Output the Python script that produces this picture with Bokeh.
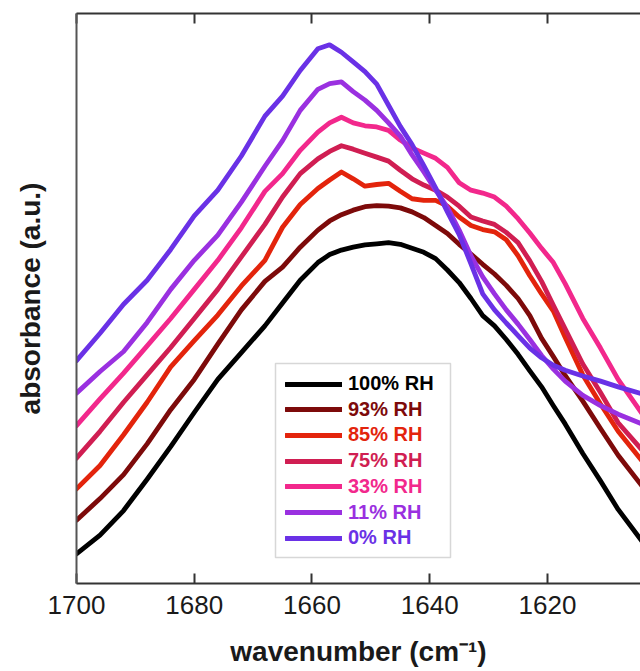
from bokeh.plotting import figure
from bokeh.models import (Range1d, LinearAxis, FixedTicker, Legend, LegendItem, BoxAnnotation,
                          CustomLabelingPolicy)
from bokeh.embed import file_html
from bokeh.resources import INLINE

# ---------------- data ----------------
wavenumber = [1700, 1696, 1692, 1688, 1684, 1680, 1676, 1672, 1668, 1665, 1662, 1659,
              1657, 1655, 1653, 1651, 1649, 1647, 1645, 1643, 1641, 1639, 1637, 1635,
              1633, 1631, 1629, 1627, 1625, 1623, 1621, 1619, 1617, 1614, 1611, 1608, 1604]

rh_100 = [0.052, 0.085, 0.128, 0.183, 0.240, 0.300, 0.358, 0.405, 0.452, 0.492, 0.532, 0.563,
          0.577, 0.585, 0.590, 0.594, 0.596, 0.598, 0.595, 0.588, 0.581, 0.570, 0.550, 0.528,
          0.500, 0.470, 0.452, 0.428, 0.402, 0.373, 0.345, 0.312, 0.280, 0.228, 0.180, 0.130, 0.075]
rh_93 = [0.111, 0.149, 0.191, 0.245, 0.305, 0.358, 0.420, 0.480, 0.530, 0.555, 0.590, 0.620,
         0.636, 0.647, 0.655, 0.661, 0.663, 0.662, 0.659, 0.652, 0.642, 0.628, 0.614, 0.595,
         0.578, 0.560, 0.543, 0.523, 0.500, 0.470, 0.430, 0.398, 0.365, 0.320, 0.272, 0.225, 0.172]
rh_85 = [0.166, 0.207, 0.261, 0.318, 0.380, 0.426, 0.471, 0.522, 0.567, 0.625, 0.665, 0.693,
         0.708, 0.722, 0.710, 0.697, 0.700, 0.702, 0.688, 0.675, 0.672, 0.672, 0.662, 0.643,
         0.628, 0.621, 0.617, 0.603, 0.575, 0.540, 0.508, 0.478, 0.432, 0.366, 0.315, 0.267, 0.216]
rh_75 = [0.220, 0.267, 0.318, 0.366, 0.414, 0.465, 0.516, 0.573, 0.630, 0.678, 0.719, 0.745,
         0.758, 0.768, 0.762, 0.755, 0.748, 0.741, 0.725, 0.710, 0.699, 0.690, 0.678, 0.662,
         0.643, 0.636, 0.630, 0.616, 0.598, 0.566, 0.530, 0.488, 0.447, 0.385, 0.335, 0.282, 0.235]
rh_33 = [0.277, 0.324, 0.369, 0.417, 0.465, 0.516, 0.567, 0.624, 0.688, 0.719, 0.760, 0.792,
         0.808, 0.818, 0.808, 0.803, 0.801, 0.795, 0.778, 0.764, 0.755, 0.746, 0.730, 0.703,
         0.690, 0.685, 0.678, 0.662, 0.640, 0.615, 0.588, 0.563, 0.526, 0.465, 0.413, 0.358, 0.299]
rh_11 = [0.334, 0.372, 0.407, 0.458, 0.516, 0.567, 0.611, 0.669, 0.732, 0.777, 0.830, 0.867,
         0.877, 0.880, 0.863, 0.848, 0.830, 0.808, 0.785, 0.752, 0.722, 0.690, 0.660, 0.620,
         0.575, 0.538, 0.508, 0.480, 0.455, 0.428, 0.400, 0.376, 0.355, 0.330, 0.312, 0.297, 0.280]
rh_0 = [0.391, 0.439, 0.490, 0.532, 0.586, 0.645, 0.690, 0.750, 0.820, 0.855, 0.900, 0.938,
        0.945, 0.932, 0.915, 0.898, 0.876, 0.839, 0.802, 0.770, 0.733, 0.694, 0.652, 0.612,
        0.561, 0.508, 0.480, 0.457, 0.435, 0.413, 0.396, 0.383, 0.374, 0.364, 0.355, 0.345, 0.333]

series_labels = ["100% RH", "93% RH", "85% RH", "75% RH", "33% RH", "11% RH", "0% RH"]
series_values = [rh_100, rh_93, rh_85, rh_75, rh_33, rh_11, rh_0]
series_colors = ["#000000", "#7d0a0a", "#e3240c", "#d01e52", "#f2288c", "#9a30e0", "#6a31e6"]
x_ticks = [1700, 1680, 1660, 1640, 1620]

# ---------------- layout / style ----------------
FONT = "Liberation Sans"
AXIS_COLOR = "#333333"
X_START, X_END = 1700, 1604.2
Y_START, Y_END = 0.0, 1.0
FRAME_W, FRAME_H = 564, 570
FRAME_LEFT_PX, FRAME_BOTTOM_PX = 76, 583   # page pixel coords of frame corner

p = figure(frame_width=FRAME_W, frame_height=FRAME_H,
           x_range=Range1d(X_START, X_END), y_range=Range1d(Y_START, Y_END),
           output_backend="svg", toolbar_location=None,
           min_border_left=FRAME_LEFT_PX, min_border_right=0, min_border_top=13,
           min_border_bottom=88)
p.outline_line_color = None
p.grid.visible = False
p.background_fill_color = "white"

xa = p.xaxis[0]
xa.ticker = FixedTicker(ticks=x_ticks)
xa.major_tick_in = 10
xa.major_tick_out = 0
xa.minor_tick_line_color = None
xa.major_tick_line_width = 2
xa.major_tick_line_color = AXIS_COLOR
xa.axis_line_width = 2
xa.axis_line_color = AXIS_COLOR
xa.major_label_text_font = FONT
xa.major_label_text_font_size = "26px"
xa.major_label_text_color = "#1a1a1a"
xa.major_label_standoff = 12
xa.axis_label = "wavenumber (cm\u207b\u00b9)"
xa.axis_label_text_font = FONT
xa.axis_label_text_font_size = "28px"
xa.axis_label_text_font_style = "bold"
xa.axis_label_text_color = "#1a1a1a"
xa.axis_label_text_line_height = 1.0
xa.axis_label_standoff = 19

ya = p.yaxis[0]
ya.ticker = FixedTicker(ticks=[])
ya.major_tick_in = 0
ya.major_tick_out = 0
ya.minor_tick_line_color = None
ya.major_label_text_font_size = "0px"
ya.major_label_standoff = 0
ya.axis_line_width = 2
ya.axis_line_color = "#555555"
ya.axis_label = "absorbance (a.u.)"
ya.axis_label_text_font = FONT
ya.axis_label_text_font_size = "28px"
ya.axis_label_text_font_style = "bold"
ya.axis_label_text_color = "#1a1a1a"
ya.axis_label_standoff = 31

# top frame edge with inward ticks, no labels drawn
no_labels = CustomLabelingPolicy(code="""
for (const i of indices) { indices.unset(i) }
return indices
""")
top = LinearAxis(ticker=FixedTicker(ticks=x_ticks), major_tick_in=10, major_tick_out=0,
                 major_tick_line_width=2, major_tick_line_color=AXIS_COLOR,
                 minor_tick_line_color=None, axis_line_width=2, axis_line_color=AXIS_COLOR,
                 major_label_policy=no_labels, major_label_text_font_size="10px",
                 major_label_standoff=0)
p.add_layout(top, "above")

renderers = []
for vals, col in zip(series_values, series_colors):
    r = p.line(wavenumber, vals, line_color=col, line_width=4.8,
               line_join="round", line_cap="round")
    renderers.append(r)

# legend box (positions converted from page pixels to data space)
def px_to_x(px):
    return X_START + (px - FRAME_LEFT_PX) / FRAME_W * (X_END - X_START)

def py_to_y(py):
    return Y_START + (FRAME_BOTTOM_PX - py) / FRAME_H * (Y_END - Y_START)

box = BoxAnnotation(left=px_to_x(275), right=px_to_x(450), top=py_to_y(363), bottom=py_to_y(557),
                    fill_color="white", fill_alpha=1.0, line_color="#7a7a7a", line_width=1.5)
p.add_layout(box)

ROW0_CENTER, ROW_STEP = 385, 25.7
for i, (lab, r, col) in enumerate(zip(series_labels, renderers, series_colors)):
    center = ROW0_CENTER + ROW_STEP * i
    leg = Legend(items=[LegendItem(label=lab, renderers=[r])],
                 location=(285 - FRAME_LEFT_PX, FRAME_BOTTOM_PX - center - 10),
                 padding=0, margin=0, spacing=0, glyph_width=57, glyph_height=20,
                 label_height=20, label_standoff=6,
                 label_text_font=FONT, label_text_font_style="bold",
                 label_text_font_size="20px", label_text_color=col,
                 border_line_alpha=0, background_fill_alpha=0)
    p.add_layout(leg)

open("out.html", "w").write(file_html(p, INLINE))
